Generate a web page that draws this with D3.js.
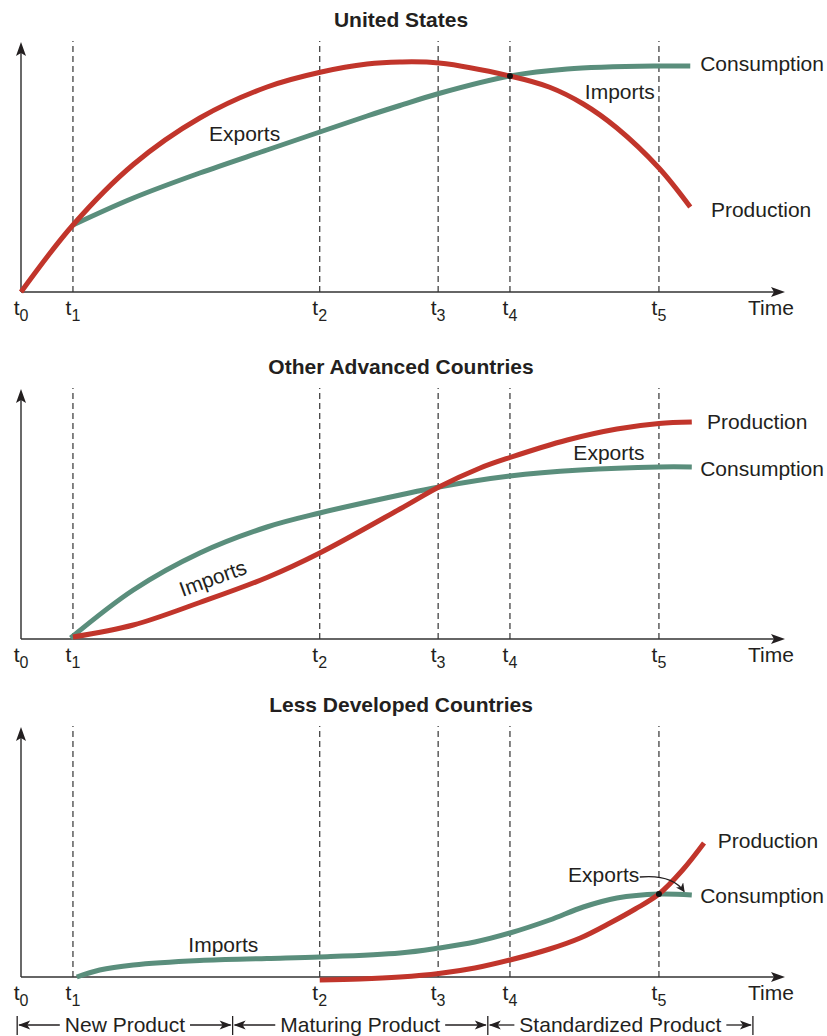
<!DOCTYPE html>
<html>
<head>
<meta charset="utf-8">
<script src="https://cdn.jsdelivr.net/npm/d3@7"></script>
<style>
body{margin:0;background:#fff}
svg{display:block;font-family:"Liberation Sans",Arial,Helvetica,sans-serif}
</style>
</head>
<body>
<div id="chart"></div>
<script>
// time markers, axis runs from 0 to 100
var tNames = ["0","1","2","3","4","5"]
var tValues = [0, 6.8, 39.1, 54.6, 64.0, 83.5]

var panelTitles = ["United States","Other Advanced Countries","Less Developed Countries"]

// United States
var usProduction = [[0,0],[6.8,26.8],[14.7,51],[23.4,69.6],[32.2,82],[39.3,88],[45.3,91.2],[49.6,92],[54.7,91.6],[64.0,86.4],[69.2,81.9],[73.6,75.2],[78.0,65.6],[83.5,49.6],[87.6,34]]
var usConsumption = [[6.8,26.8],[14.7,37.6],[23.4,47.6],[32.2,56.8],[39.3,64.2],[45.3,70.4],[49.6,74.6],[54.7,79.4],[64.0,86.4],[71.5,89.2],[83.5,90.4],[87.6,90.4]]
var usCross = [64.0,86.4]

// Other advanced countries
var oacProduction = [[6.8,0.8],[14.7,5.6],[23.4,14.6],[32.2,24.6],[39.1,34.4],[49.6,52],[54.7,60.8],[60.1,68.4],[64.0,72.6],[71.5,79.6],[78.0,84],[83.5,86.2],[87.8,86.8]]
var oacConsumption = [[6.5,0.4],[14.7,19.6],[23.4,34.4],[32.2,44.8],[39.1,50.4],[49.6,57.6],[54.7,60.8],[64.0,65.2],[73.2,67.6],[83.5,68.8],[87.8,68.8]]

// Less developed countries
var ldcProduction = [[39.1,-1.2],[44.4,-0.8],[49.6,0],[54.7,1.4],[59.4,3.6],[64.0,6.8],[69.2,11.2],[73.2,15.6],[77.1,21.6],[80.4,27.2],[83.5,33.2],[86.6,42.8],[89.4,53.6]]
var ldcConsumption = [[7.3,0],[10.3,2.8],[14.7,4.8],[23.4,6.6],[32.2,7.4],[39.1,8],[49.6,9.6],[54.7,11.6],[59.4,14],[64.0,17.6],[69.2,22.8],[73.6,28],[78.0,31.6],[83.5,33.2],[87.8,32.8]]
var ldcCross = [83.5,33.2]

var phaseNames = ["New Product","Maturing Product","Standardized Product"]
var phaseBounds = [-0.5, 27.7, 61.1, 95.8]

var red = "#c1352b"
var green = "#5a8e7c"
var ink = "#231f20"

var W = 827, H = 1036
var panelBase = [292, 639, 977]
var panelHeight = 250
var x = d3.scaleLinear().domain([0,100]).range([21,785])

var svg = d3.select("#chart").append("svg").attr("width",W).attr("height",H)
var defs = svg.append("defs")
defs.append("marker").attr("id","smallHead")
    .attr("viewBox","0 0 10 10").attr("refX",9).attr("refY",5)
    .attr("markerWidth",9).attr("markerHeight",9).attr("markerUnits","userSpaceOnUse")
    .attr("orient","auto")
    .append("path").attr("d","M0,0 L10,5 L0,10 L3,5 Z").attr("fill",ink)

var panels = [
    {prod:usProduction, cons:usConsumption, cross:usCross,
     labels:[{t:"Exports",x:24.6,y:60.4},{t:"Imports",x:73.8,y:77.2},
             {t:"Consumption",x:88.9,y:88.4},{t:"Production",x:90.3,y:30}]},
    {prod:oacProduction, cons:oacConsumption, cross:null,
     labels:[{t:"Production",x:89.8,y:84},{t:"Consumption",x:88.9,y:65.2},
             {t:"Exports",x:72.3,y:71.6},{t:"Imports",x:25.1,y:24.4,rot:-20}]},
    {prod:ldcProduction, cons:ldcConsumption, cross:ldcCross,
     labels:[{t:"Imports",x:21.9,y:10},{t:"Exports",x:71.6,y:38},
             {t:"Production",x:91.2,y:51.6},{t:"Consumption",x:88.9,y:29.6}],
     pointer:[[81.0,40],[85.2,41.2],[86.8,34.2]]}
]

for(var p in panels){
    drawPanel(+p)
}
drawPhases()

function drawPanel(i){
    var panel = panels[i]
    var base = panelBase[i]
    var y = d3.scaleLinear().domain([0,100]).range([base, base-panelHeight])
    var g = svg.append("g").attr("class","panel_"+i)

    g.append("text").text(panelTitles[i])
        .attr("x",401).attr("y",base-265)
        .attr("text-anchor","middle").attr("font-weight","bold")
        .attr("font-size",21).attr("fill",ink)

    // axes
    var top = y(100)
    g.append("line").attr("x1",x(0)).attr("x2",x(0)).attr("y1",y(0)).attr("y2",top+8)
        .attr("stroke","#444").attr("stroke-width",1.6)
    g.append("path")
        .attr("d","M"+x(0)+","+top+" L"+(x(0)-5)+","+(top+14)+" L"+x(0)+","+(top+11)+" L"+(x(0)+5)+","+(top+14)+"Z")
        .attr("fill",ink)
    g.append("line").attr("x1",x(0)).attr("x2",x(100)-8).attr("y1",y(0)).attr("y2",y(0))
        .attr("stroke","#333").attr("stroke-width",1.6)
    g.append("path")
        .attr("d","M"+x(100)+","+y(0)+" L"+(x(100)-14)+","+(y(0)-5)+" L"+(x(100)-11)+","+y(0)+" L"+(x(100)-14)+","+(y(0)+5)+"Z")
        .attr("fill",ink)

    // time markers
    g.selectAll(".tline")
        .data(tValues.slice(1))
        .enter()
        .append("line")
        .attr("class","tline")
        .attr("x1",function(d){return x(d)}).attr("x2",function(d){return x(d)})
        .attr("y1",y(0)).attr("y2",y(100.4))
        .attr("stroke","#333").attr("stroke-width",1.2).attr("stroke-dasharray","6,4")

    var tl = g.selectAll(".tlabel")
        .data(tValues)
        .enter()
        .append("text")
        .attr("class","tlabel")
        .attr("x",function(d){return x(d)})
        .attr("y",base+23)
        .attr("text-anchor","middle")
        .attr("font-size",21).attr("fill",ink)
    tl.append("tspan").text("t")
    tl.append("tspan").text(function(d,j){return tNames[j]})
        .attr("font-size",16).attr("dy",6)

    g.append("text").text("Time")
        .attr("x",748).attr("y",base+23)
        .attr("font-size",21).attr("fill",ink)

    var line = d3.line()
        .x(function(d){return x(d[0])})
        .y(function(d){return y(d[1])})
        .curve(d3.curveCatmullRom.alpha(0.5))

    g.append("path").datum(panel.cons).attr("d",line)
        .attr("fill","none").attr("stroke",green).attr("stroke-width",5)
    g.append("path").datum(panel.prod).attr("d",line)
        .attr("fill","none").attr("stroke",red).attr("stroke-width",5)

    if(panel.cross){
        g.append("circle").attr("cx",x(panel.cross[0])).attr("cy",y(panel.cross[1]))
            .attr("r",3).attr("fill","#111")
    }

    g.selectAll(".lbl")
        .data(panel.labels)
        .enter()
        .append("text")
        .attr("class","lbl")
        .text(function(d){return d.t})
        .attr("font-size",21).attr("fill",ink)
        .attr("text-anchor",function(d){return d.rot ? "middle" : "start"})
        .attr("dominant-baseline",function(d){return d.rot ? "central" : "auto"})
        .attr("transform",function(d){
            var s = "translate("+x(d.x)+","+y(d.y)+")"
            if(d.rot) s += " rotate("+d.rot+")"
            return s
        })

    if(panel.pointer){
        var pt = panel.pointer
        g.append("path")
            .attr("d","M"+x(pt[0][0])+","+y(pt[0][1])+" Q"+x(pt[1][0])+","+y(pt[1][1])+" "+x(pt[2][0])+","+y(pt[2][1]))
            .attr("fill","none").attr("stroke",ink).attr("stroke-width",1.3)
            .attr("marker-end","url(#smallHead)")
    }
}

function drawPhases(){
    var yy = 1025
    var g = svg.append("g").attr("class","phases")
    g.selectAll(".bar")
        .data(phaseBounds)
        .enter()
        .append("line")
        .attr("x1",function(d){return x(d)}).attr("x2",function(d){return x(d)})
        .attr("y1",yy-9).attr("y2",yy+10)
        .attr("stroke",ink).attr("stroke-width",1.3)

    for(var k=0;k<phaseNames.length;k++){
        var left = x(phaseBounds[k]), right = x(phaseBounds[k+1])
        var mid = (left+right)/2
        var label = g.append("text").text(phaseNames[k])
            .attr("x",mid).attr("y",yy+7)
            .attr("text-anchor","middle")
            .attr("font-size",21).attr("fill",ink)
        var half = label.node().getComputedTextLength()/2
        // left pointing arrow
        g.append("line").attr("x1",left+2).attr("x2",mid-half-5)
            .attr("y1",yy).attr("y2",yy)
            .attr("stroke",ink).attr("stroke-width",1.3)
        g.append("path")
            .attr("d","M"+(left+1)+","+yy+" L"+(left+13)+","+(yy-4.5)+" L"+(left+10)+","+yy+" L"+(left+13)+","+(yy+4.5)+"Z")
            .attr("fill",ink)
        // right pointing arrow
        g.append("line").attr("x1",mid+half+5).attr("x2",right-2)
            .attr("y1",yy).attr("y2",yy)
            .attr("stroke",ink).attr("stroke-width",1.3)
        g.append("path")
            .attr("d","M"+(right-1)+","+yy+" L"+(right-13)+","+(yy-4.5)+" L"+(right-10)+","+yy+" L"+(right-13)+","+(yy+4.5)+"Z")
            .attr("fill",ink)
    }
}
</script>
</body>
</html>
